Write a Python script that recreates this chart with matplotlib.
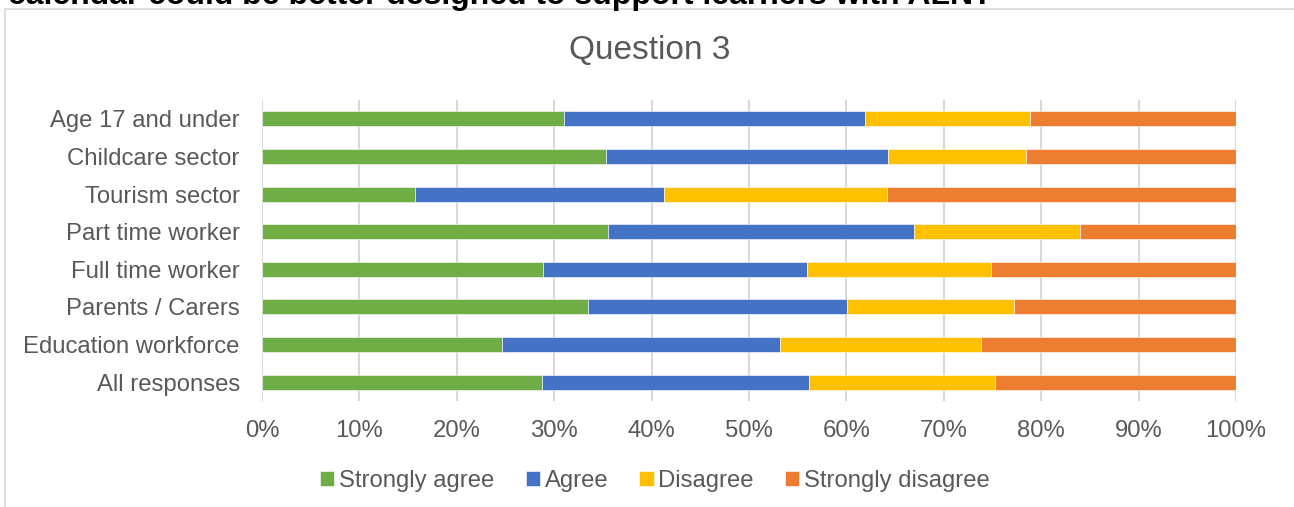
import numpy as np
import matplotlib
matplotlib.use('Agg')
import matplotlib.pyplot as plt
from matplotlib.patches import Rectangle

plt.rcParams['font.family'] = ['Liberation Sans', 'DejaVu Sans']

categories = ['Age 17 and under', 'Childcare sector', 'Tourism sector',
              'Part time worker', 'Full time worker', 'Parents / Carers',
              'Education workforce', 'All responses']

# percentages
strongly_agree = [31.0, 35.35, 15.75, 35.5, 28.8, 33.5, 24.6, 28.7]
agree = [30.95, 28.95, 25.55, 31.4, 27.2, 26.6, 28.6, 27.5]
disagree = [16.85, 14.1, 22.9, 17.1, 18.8, 17.1, 20.6, 19.1]
strongly_disagree = [100 - a - b - c for a, b, c in zip(strongly_agree, agree, disagree)]

series = [('Strongly agree', strongly_agree, '#70AD47'),
          ('Agree', agree, '#4472C4'),
          ('Disagree', disagree, '#FFC000'),
          ('Strongly disagree', strongly_disagree, '#ED7D31')]

W, H = 1294, 507
fig = plt.figure(figsize=(W / 100, H / 100), dpi=100)

# chart frame (runs off the right/bottom edge like the source screenshot)
fig.patches.append(Rectangle((5 / W, -1), 2, 2 - 9 / H, transform=fig.transFigure,
                             facecolor='white', edgecolor='#D9D9D9', linewidth=1.2,
                             zorder=-5))

# cut-off heading from the page above the chart
fig.text(8 / W, 1 - 4 / H, 'calendar could be better designed to support learners with ALN?',
         fontsize=23, fontweight='bold', color='black', ha='left', va='baseline')

ax = fig.add_axes([262 / W, 1 - 401 / H, 974 / W, 301 / H])
ax.patch.set_alpha(0)
y = np.arange(len(categories))
left = np.zeros(len(categories))
for name, vals, col in series:
    vals = np.array(vals) / 100
    ax.barh(y, vals, left=left, height=0.4, color=col, label=name,
            edgecolor='white', linewidth=0.4, zorder=3)
    left += vals

ax.set_ylim(len(categories) - 0.5, -0.5)
ax.set_xlim(0, 1)
ax.set_xticks(np.arange(0, 1.01, 0.1))
ax.set_xticklabels(['{}%'.format(int(round(v * 100))) for v in np.arange(0, 1.01, 0.1)])
ax.set_yticks(y)
ax.set_yticklabels(categories)
ax.tick_params(axis='both', length=0, labelsize=17.2, labelcolor='#595959')
ax.tick_params(axis='y', pad=16)
ax.tick_params(axis='x', pad=14)
ax.grid(axis='x', color='#D9D9D9', linewidth=1.5, zorder=0)
for s in ax.spines.values():
    s.set_visible(False)

fig.text(650 / W, 1 - 50 / H, 'Question 3', fontsize=24, color='#595959',
         ha='center', va='center')

fig.legend(*ax.get_legend_handles_labels(), loc='center',
           bbox_to_anchor=(655 / W, 1 - 481 / H), ncol=4, frameon=False,
           fontsize=17.2, labelcolor='#595959', handlelength=0.6, handleheight=0.6,
           handletextpad=0.2, columnspacing=1.3)

plt.savefig('out.png', dpi=100)
